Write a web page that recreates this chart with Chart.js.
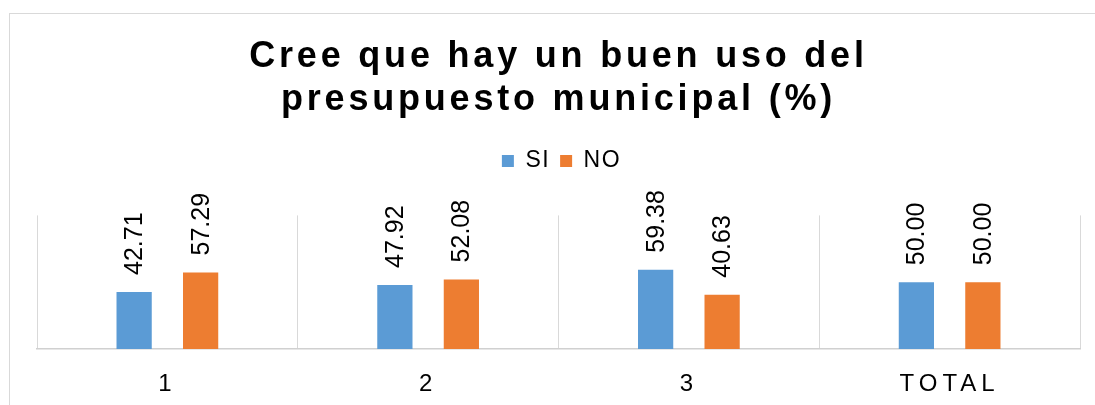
<!DOCTYPE html>
<html>
<head>
<meta charset="utf-8">
<script src="https://cdn.jsdelivr.net/npm/chart.js@4.4.1/dist/chart.umd.min.js"></script>
<style>
  html, body { margin: 0; padding: 0; background: #fff; }
  #frame { position: absolute; left: 9px; top: 13px; width: 1200px; height: 500px; border: 1px solid #d9d9d9; }
  #wrap { position: absolute; left: 0; top: 0; width: 1095px; height: 405px; }
</style>
</head>
<body>
<div id="frame"></div>
<div id="wrap"><canvas id="usoChart" width="1095" height="405"></canvas></div>
<script>
var categories = ['1', '2', '3', 'TOTAL'];
var siValues = [42.71, 47.92, 59.38, 50.00];
var noValues = [57.29, 52.08, 40.63, 50.00];
var seriesNames = ['SI', 'NO'];
var titleLines = ['Cree que hay un buen uso del', 'presupuesto municipal (%)'];

var FONT = '"Liberation Sans", Arial, sans-serif';

// letter spacing per element (canvas has no css for this)
function withSpacing(obj, fn, sp) {
    if (!obj || obj['_sp_' + fn]) return;
    var orig = obj[fn];
    obj[fn] = function () {
        var c = this.ctx;
        var prev = c.letterSpacing;
        c.letterSpacing = sp;
        orig.apply(this, arguments);
        c.letterSpacing = prev;
    };
    obj['_sp_' + fn] = true;
}

var spacingPlugin = {
    id: 'spacing',
    beforeInit: function (chart) {
        var fit = chart.legend.fit;
        chart.legend.fit = function () {
            fit.bind(chart.legend)();
            this.height += 33;
        };
    },
    beforeDraw: function (chart) {
        withSpacing(chart.titleBlock, 'draw', '3.8px');
        withSpacing(chart.legend, 'draw', '1.5px');
        withSpacing(chart.scales.x, 'drawLabels', '5px');
    }
};

var barLabels = {
    id: 'barLabels',
    afterDatasetsDraw: function (chart) {
        var ctx = chart.ctx;
        ctx.save();
        ctx.letterSpacing = '0px';
        ctx.font = '25px ' + FONT;
        ctx.fillStyle = '#000';
        ctx.textAlign = 'left';
        ctx.textBaseline = 'middle';
        chart.data.datasets.forEach(function (ds, i) {
            chart.getDatasetMeta(i).data.forEach(function (bar, j) {
                ctx.save();
                ctx.translate(bar.x + 1, bar.y - 17);
                ctx.rotate(-Math.PI / 2);
                ctx.fillText(ds.data[j].toFixed(2), 0, 0);
                ctx.restore();
            });
        });
        ctx.restore();
    }
};

var ctx = document.getElementById('usoChart').getContext('2d');
var usoChart = new Chart(ctx, {
    type: 'bar',
    data: {
        labels: categories,
        datasets: [{
            label: seriesNames[0],
            data: siValues,
            backgroundColor: '#5B9BD5'
        }, {
            label: seriesNames[1],
            data: noValues,
            backgroundColor: '#ED7D31'
        }]
    },
    options: {
        responsive: false,
        animation: false,
        categoryPercentage: 0.51,
        barPercentage: 0.53,
        layout: {
            padding: { left: 37, right: 15, top: 0, bottom: 7 }
        },
        scales: {
            x: {
                afterFit: function (scale) { scale.height = 49; },
                grid: {
                    color: '#d9d9d9',
                    lineWidth: 1,
                    drawTicks: false
                },
                border: { color: '#d0d0d0', width: 1.5 },
                ticks: {
                    color: '#000',
                    padding: 21,
                    font: { family: FONT, size: 24 }
                }
            },
            y: {
                display: false,
                min: 0,
                max: 100
            }
        },
        plugins: {
            title: {
                display: true,
                text: titleLines,
                color: '#000',
                font: { family: FONT, size: 36, weight: 'bold', lineHeight: 1.2 },
                padding: { top: 35, bottom: 18 }
            },
            legend: {
                display: true,
                position: 'top',
                labels: {
                    color: '#000',
                    boxWidth: 12,
                    boxHeight: 12,
                    padding: 10,
                    font: { family: FONT, size: 23 }
                }
            },
            tooltip: { enabled: false }
        }
    },
    plugins: [spacingPlugin, barLabels]
});
</script>
</body>
</html>
